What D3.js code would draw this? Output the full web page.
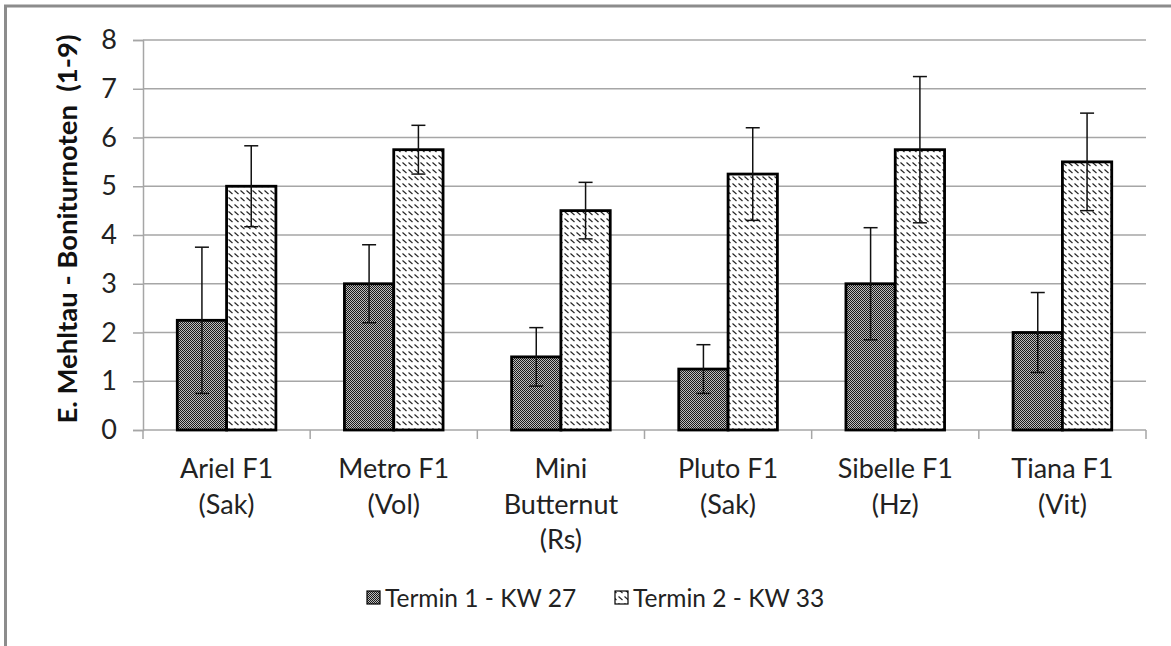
<!DOCTYPE html>
<html>
<head>
<meta charset="utf-8">
<script src="https://cdn.jsdelivr.net/npm/d3@7"></script>
<style>
  html, body { margin: 0; padding: 0; background: #fff; }
  svg { display: block; font-family: Lato, "Open Sans", "Liberation Sans", sans-serif; }
</style>
</head>
<body>
<svg id="chart" width="1171" height="646"></svg>
<script>
const categories = [["Ariel F1", "(Sak)"], ["Metro F1", "(Vol)"], ["Mini", "Butternut", "(Rs)"], ["Pluto F1", "(Sak)"], ["Sibelle F1", "(Hz)"], ["Tiana F1", "(Vit)"]];
const seriesNames = ["Termin 1 - KW 27", "Termin 2 - KW 33"];
const termin1 = [2.25, 3.0, 1.5, 1.25, 3.0, 2.0];
const termin1Err = [1.5, 0.8, 0.6, 0.5, 1.15, 0.82];
const termin2 = [5.0, 5.75, 4.5, 5.25, 5.75, 5.5];
const termin2Err = [0.83, 0.5, 0.58, 0.95, 1.5, 1.0];
const yTicks = [0, 1, 2, 3, 4, 5, 6, 7, 8];
const yTitle = "E. Mehltau - Boniturnoten  (1-9)";

const svg = d3.select("#chart");
const defs = svg.append("defs");

// dark dotted pattern
const p1 = defs.append("pattern").attr("id", "pDark").attr("patternUnits", "userSpaceOnUse")
  .attr("width", 2).attr("height", 2);
p1.append("rect").attr("width", 2).attr("height", 2).attr("fill", "#bdbdbd");
p1.append("rect").attr("x", 0).attr("y", 0).attr("width", 1).attr("height", 1).attr("fill", "#1a1a1a");
p1.append("rect").attr("x", 1).attr("y", 1).attr("width", 1).attr("height", 1).attr("fill", "#1a1a1a");

// diagonal dash pattern
const p2 = defs.append("pattern").attr("id", "pHatch").attr("patternUnits", "userSpaceOnUse")
  .attr("width", 6).attr("height", 7);
p2.append("rect").attr("width", 6).attr("height", 7).attr("fill", "#fff");
p2.append("line").attr("x1", 0.5).attr("y1", 1.5).attr("x2", 4.5).attr("y2", 5)
  .attr("stroke", "#222").attr("stroke-width", 1.1);

// outer border
svg.append("path").attr("d", "M5.5,646 L5.5,6 L1171,6")
  .attr("fill", "none").attr("stroke", "#8c8c8c").attr("stroke-width", 3);

const x0 = 143, x1 = 1146, yTop = 40, yBot = 430;
const x = d3.scaleBand().domain(d3.range(categories.length)).range([x0, x1]).paddingInner(0).paddingOuter(0);
const y = d3.scaleLinear().domain([0, 8]).range([yBot, yTop]);
const groupW = x.bandwidth() * 0.59;
const xs = d3.scaleBand().domain([0, 1]).range([0, groupW]);

// gridlines
svg.append("g").selectAll("line").data(yTicks.filter(d => d > 0)).join("line")
  .attr("x1", x0).attr("x2", x1).attr("y1", d => y(d)).attr("y2", d => y(d))
  .attr("stroke", "#a6a6a6").attr("stroke-width", 1.5);

// y axis
const yAxis = svg.append("g").attr("transform", `translate(${x0},0)`)
  .call(d3.axisLeft(y).tickValues(yTicks).tickSize(10).tickPadding(16));
yAxis.select(".domain").attr("stroke", "#a6a6a6").attr("stroke-width", 1.5);
yAxis.selectAll(".tick line").attr("stroke", "#a6a6a6").attr("stroke-width", 1.5);
yAxis.selectAll(".tick text").attr("font-size", 27).attr("fill", "#222")
  .attr("font-family", "Lato, 'Open Sans', sans-serif");

// x axis
const xAxisG = svg.append("g");
xAxisG.append("line").attr("x1", x0).attr("x2", x1).attr("y1", yBot).attr("y2", yBot)
  .attr("stroke", "#a6a6a6").attr("stroke-width", 1.5);
const bounds = d3.range(categories.length + 1).map(i => i < categories.length ? x(i) : x(i - 1) + x.bandwidth());
xAxisG.selectAll(".xt").data(bounds).join("line").attr("class", "xt")
  .attr("x1", d => d).attr("x2", d => d).attr("y1", yBot).attr("y2", yBot + 9)
  .attr("stroke", "#a6a6a6").attr("stroke-width", 1.5);

// category labels
const lab = svg.append("g").selectAll("text").data(categories).join("text")
  .attr("x", (d, i) => x(i) + x.bandwidth() / 2)
  .attr("y", 478).attr("text-anchor", "middle").attr("font-size", 27).attr("fill", "#222");
lab.selectAll("tspan").data(d => d).join("tspan")
  .attr("x", function () { return this.parentNode.getAttribute("x"); })
  .attr("dy", (d, i) => i === 0 ? 0 : 35.5).text(d => d);

// bars
const series = [
  { vals: termin1, err: termin1Err, fill: "url(#pDark)" },
  { vals: termin2, err: termin2Err, fill: "url(#pHatch)" }
];
series.forEach((s, si) => {
  const g = svg.append("g");
  g.selectAll("rect").data(s.vals).join("rect")
    .attr("x", (d, i) => x(i) + (x.bandwidth() - groupW) / 2 + xs(si))
    .attr("y", d => y(d)).attr("width", xs.bandwidth()).attr("height", d => yBot - y(d))
    .attr("fill", s.fill).attr("stroke", "#000").attr("stroke-width", 2.8);
});
series.forEach((s, si) => {
  const g = svg.append("g");
  const cx = i => x(i) + (x.bandwidth() - groupW) / 2 + xs(si) + xs.bandwidth() / 2;
  g.selectAll(".ev").data(s.vals).join("line").attr("class", "ev")
    .attr("x1", (d, i) => cx(i)).attr("x2", (d, i) => cx(i))
    .attr("y1", (d, i) => y(d + s.err[i])).attr("y2", (d, i) => y(d - s.err[i]))
    .attr("stroke", "#111").attr("stroke-width", 1.5);
  ["top", "bot"].forEach(k => {
    g.selectAll(".c" + k).data(s.vals).join("line").attr("class", "c" + k)
      .attr("x1", (d, i) => cx(i) - 7).attr("x2", (d, i) => cx(i) + 7)
      .attr("y1", (d, i) => y(k === "top" ? d + s.err[i] : d - s.err[i]))
      .attr("y2", (d, i) => y(k === "top" ? d + s.err[i] : d - s.err[i]))
      .attr("stroke", "#111").attr("stroke-width", 1.5);
  });
});

// y title
svg.append("text").attr("transform", "translate(77,229) rotate(-90)")
  .attr("text-anchor", "middle").attr("font-size", 27.5).attr("font-weight", "bold")
  .attr("fill", "#111").attr("xml:space", "preserve").style("white-space", "pre").text(yTitle);

// legend
const legX = [367, 615];
const leg = svg.append("g");
seriesNames.forEach((n, i) => {
  leg.append("rect").attr("x", legX[i]).attr("y", 591).attr("width", 13).attr("height", 13)
    .attr("fill", series[i].fill).attr("stroke", "#000").attr("stroke-width", 1.2);
  leg.append("text").attr("x", legX[i] + 18).attr("y", 607).attr("font-size", 24.5)
    .attr("fill", "#222").text(n);
});
</script>
</body>
</html>
